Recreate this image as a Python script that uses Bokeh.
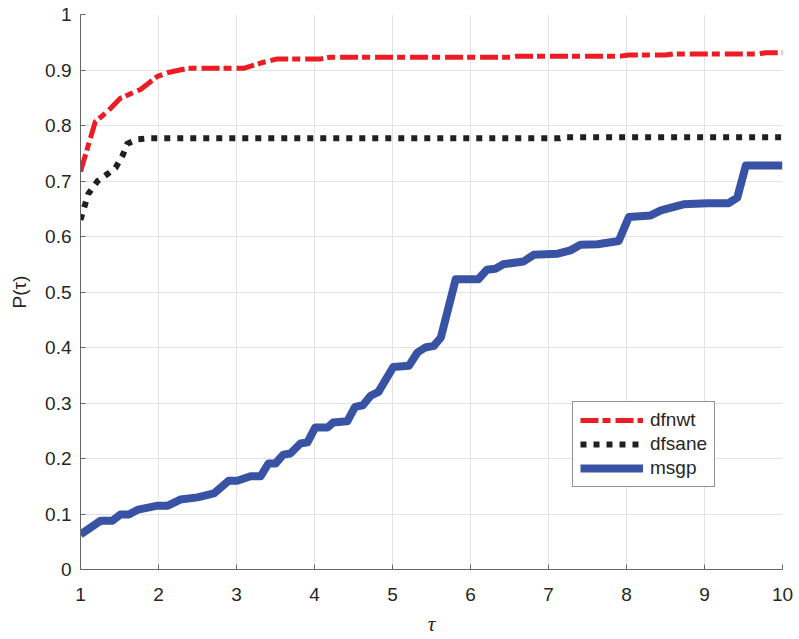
from bokeh.plotting import figure
from bokeh.models import Range1d, FixedTicker, Legend, LegendItem
from bokeh.embed import file_html
from bokeh.resources import INLINE

# ---- data ----
dfnwt_x = [1.0, 1.19, 1.36, 1.51, 1.77, 1.98, 2.11, 2.37, 3.09, 3.35, 3.52, 4.08, 4.2,
           6.51, 6.6, 7.92, 8.03, 8.5, 8.6, 9.7, 9.78, 10.0]
dfnwt_y = [0.717, 0.807, 0.827, 0.849, 0.865, 0.888, 0.895, 0.903, 0.903, 0.914, 0.920, 0.920, 0.923,
           0.923, 0.925, 0.925, 0.927, 0.927, 0.929, 0.929, 0.931, 0.931]

dfsane_x = [1.0, 1.1, 1.22, 1.35, 1.45, 1.54, 1.6, 1.73, 1.9, 7.15, 7.2, 10.0]
dfsane_y = [0.630, 0.677, 0.700, 0.713, 0.724, 0.746, 0.767, 0.775, 0.777, 0.777, 0.779, 0.779]

msgp_x = [1.0, 1.26, 1.41, 1.51, 1.62, 1.74, 1.99, 2.12, 2.28, 2.5, 2.71, 2.9, 3.01, 3.18, 3.31,
          3.41, 3.5, 3.6, 3.69, 3.82, 3.91, 4.01, 4.17, 4.24, 4.42, 4.52, 4.62, 4.72, 4.82,
          5.01, 5.21, 5.32, 5.42, 5.53, 5.62, 5.81, 6.1, 6.21, 6.32, 6.42, 6.68, 6.81, 7.12,
          7.28, 7.41, 7.63, 7.9, 8.03, 8.31, 8.44, 8.73, 9.04, 9.31, 9.42, 9.53, 10.0]
msgp_y = [0.063, 0.088, 0.088, 0.099, 0.099, 0.108, 0.115, 0.115, 0.126, 0.130, 0.137, 0.160, 0.160,
          0.168, 0.168, 0.191, 0.191, 0.207, 0.209, 0.227, 0.229, 0.256, 0.256, 0.265, 0.267,
          0.293, 0.296, 0.313, 0.320, 0.365, 0.367, 0.391, 0.400, 0.403, 0.418, 0.523, 0.523,
          0.540, 0.542, 0.550, 0.555, 0.567, 0.569, 0.575, 0.585, 0.586, 0.592, 0.635, 0.638,
          0.647, 0.658, 0.660, 0.660, 0.670, 0.728, 0.728]

x_ticks = [1, 2, 3, 4, 5, 6, 7, 8, 9, 10]
y_ticks = [0, 0.1, 0.2, 0.3, 0.4, 0.5, 0.6, 0.7, 0.8, 0.9, 1]

series_names = ["dfnwt", "dfsane", "msgp"]

# ---- figure ----
p = figure(width=798, height=639, output_backend="svg", toolbar_location=None,
           x_range=Range1d(1, 10), y_range=Range1d(0, 1),
           min_border_left=80, min_border_right=16, min_border_top=14, min_border_bottom=70)
p.outline_line_color = None
p.background_fill_color = "white"

font = "Liberation Sans"
axis_col = "#262626"
for ax in (p.xaxis[0], p.yaxis[0]):
    ax.major_tick_in = 5
    ax.major_tick_out = 0
    ax.minor_tick_in = 0
    ax.minor_tick_out = 0
    ax.axis_line_color = "#666666"
    ax.major_tick_line_color = "#666666"
    ax.major_label_text_font = font
    ax.major_label_text_font_size = "19px"
    ax.major_label_text_color = axis_col
    ax.axis_label_text_color = axis_col

p.xaxis.ticker = FixedTicker(ticks=x_ticks)
p.yaxis.ticker = FixedTicker(ticks=y_ticks)
p.yaxis.major_label_overrides = {0: "0", 1: "1"}
p.xaxis.major_label_standoff = 18
p.yaxis.major_label_standoff = 9

p.xaxis.axis_label = "τ"
p.xaxis.axis_label_text_font = "Liberation Serif"
p.xaxis.axis_label_text_font_style = "italic"
p.xaxis.axis_label_text_font_size = "21px"
p.xaxis.axis_label_standoff = 8

p.yaxis.axis_label = "P(τ)"
p.yaxis.axis_label_text_font = font
p.yaxis.axis_label_text_font_style = "normal"
p.yaxis.axis_label_text_font_size = "19px"
p.yaxis.axis_label_standoff = 12

p.grid.grid_line_color = "#e3e3e3"
p.grid.grid_line_width = 1

r1 = p.line(dfnwt_x, dfnwt_y, line_color="#ED1C24", line_width=5,
            line_dash="18 4 8 5", line_cap="butt", line_join="round")
r2 = p.line(dfsane_x, dfsane_y, line_color="#231F20", line_width=6,
            line_dash="6 7", line_cap="butt", line_join="miter")
r3 = p.line(msgp_x, msgp_y, line_color="#3953A4", line_width=8,
            line_cap="butt", line_join="round")

legend = Legend(items=[LegendItem(label=series_names[0], renderers=[r1]),
                       LegendItem(label=series_names[1], renderers=[r2]),
                       LegendItem(label=series_names[2], renderers=[r3])],
                location=(492, 82))
legend.label_text_font = font
legend.label_text_font_size = "19px"
legend.label_text_color = axis_col
legend.glyph_width = 63
legend.glyph_height = 20
legend.label_standoff = 7
legend.padding = 7
legend.spacing = 2
legend.margin = 0
legend.border_line_color = axis_col
legend.border_line_width = 1
legend.background_fill_color = "white"
legend.background_fill_alpha = 1
p.add_layout(legend, "center")

open("out.html", "w").write(file_html(p, INLINE))
